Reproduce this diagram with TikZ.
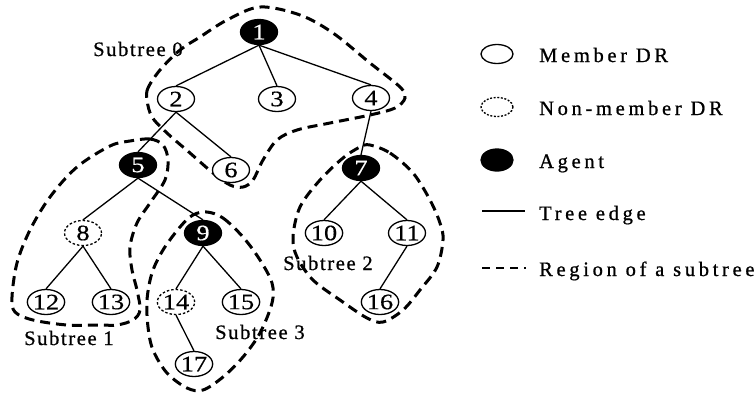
\documentclass[tikz,border=0pt]{standalone}
\usepackage{fontspec}
\setmainfont{Liberation Serif}
\newfontfamily\nodefont[FakeStretch=1.2,FakeBold=0.6]{Liberation Serif}
\newfontfamily\labfont[LetterSpace=8,FakeBold=0.8]{Liberation Serif}
\newfontfamily\legfont[LetterSpace=18,FakeBold=0.8]{Liberation Serif}
\usetikzlibrary{shapes.geometric}
\tikzset{
  dr/.style={ellipse,draw,line width=1.3pt,fill=white,minimum width=37pt,minimum height=25pt,inner sep=0pt,font=\nodefont\fontsize{22}{24}\selectfont},
  member/.style={dr},
  nonmember/.style={dr,dash pattern=on 2.5pt off 2pt},
  agent/.style={dr,fill=black,text=white},
  edge/.style={line width=1.3pt},
  region/.style={line width=3pt,dash pattern=on 10pt off 6pt},
  lab/.style={anchor=base west,inner sep=0pt,font=\labfont\fontsize{20.5}{23}\selectfont},
  leg/.style={anchor=base west,inner sep=0pt,font=\legfont\fontsize{20.5}{23}\selectfont},
  legell/.style={ellipse,draw,line width=1.3pt,minimum width=32pt,minimum height=19pt,inner sep=0pt}
}
\begin{document}
\begin{tikzpicture}[x=1pt,y=-1pt]
\useasboundingbox (0,0) rectangle (756,392);
% regions
\draw[region] plot[smooth cycle,tension=0.55] coordinates {
 (160,70) (148,88) (147,100) (152,117) (167,133) (190,153) (213,173) (230,185) (243,187) (253,180) (263,160) (277,140) (297,130) (330,123) (370,115) (395,108) (405,98) (400,87) (370,63) (333,33) (300,15) (260,7) (227,20) (200,37) (180,50)};
\draw[region] plot[smooth cycle,tension=0.55] coordinates {
 (130,141) (150,139) (163,145) (168,160) (165,180) (150,203) (137,223) (130,247) (132,270) (137,290) (140,310) (133,320) (117,325) (100,325) (67,325) (33,320) (15,312) (12,297) (17,263) (30,230) (50,197) (77,167) (110,146)};
\draw[region] plot[smooth cycle,tension=0.55] coordinates {
 (207,212) (223,218) (243,237) (260,260) (272,283) (272,303) (260,333) (243,357) (223,377) (203,390) (187,388) (167,373) (153,350) (148,327) (147,300) (152,273) (163,250) (180,227) (193,215)};
\draw[region] plot[smooth cycle,tension=0.55] coordinates {
 (370,145) (390,153) (413,173) (430,200) (440,223) (443,240) (437,267) (420,290) (403,310) (383,322) (367,318) (340,300) (313,280) (297,257) (293,237) (300,207) (320,180) (343,158) (360,147)};
% nodes
\node[agent] (n1) at (259,32) {1};
\node[member] (n2) at (176,99) {2};
\node[member] (n3) at (277,99) {3};
\node[member] (n4) at (371,98) {4};
\node[agent] (n5) at (138,165) {5};
\node[member] (n6) at (231,170) {6};
\node[agent] (n7) at (361,168) {7};
\node[nonmember] (n8) at (83,233) {8};
\node[agent] (n9) at (203,233) {9};
\node[member] (n10) at (324,233) {10};
\node[member] (n11) at (407,233) {11};
\node[member] (n12) at (46,302) {12};
\node[member] (n13) at (111,302) {13};
\node[nonmember] (n14) at (176,302) {14};
\node[member] (n15) at (241,302) {15};
\node[member] (n16) at (380,302) {16};
\node[member] (n17) at (194,364) {17};
% edges
\foreach \a/\b in {n1/n2,n1/n3,n1/n4,n2/n5,n2/n6,n4/n7,n5/n8,n5/n9,n8/n12,n8/n13,n9/n14,n9/n15,n14/n17,n7/n10,n7/n11,n11/n16}
  \draw[edge] (\a.south) -- (\b.north);
% subtree labels
\node[lab] (s0) at (93,56) {Subtree 0};
\node[lab] (s1) at (24,345) {Subtree 1};
\node[lab] (s2) at (283,270) {Subtree 2};
\node[lab] (s3) at (215,339) {Subtree 3};
% legend
\node[legell] (lm) at (497,54) {};
\node[legell,dash pattern=on 2pt off 1.6pt] (ln) at (497,107) {};
\node[legell,fill=black,minimum height=22pt] (la) at (497,160) {};
\coordinate (lt1) at (482,211); \coordinate (lt2) at (525,211);
\draw[line width=2.4pt] (lt1) -- (lt2);
\coordinate (lr1) at (482,268); \coordinate (lr2) at (526,268);
\draw[line width=2.4pt,dash pattern=on 8pt off 6pt] (lr1) -- (lr2);
\node[leg] (tm) at (539,62) {Member DR};
\node[leg] (tn) at (539,115) {Non-member DR};
\node[leg] (ta) at (539,168) {Agent};
\node[leg] (tt) at (539,220) {Tree edge};
\node[leg] (tr) at (539,276) {Region of a subtree};
\end{tikzpicture}
\end{document}
